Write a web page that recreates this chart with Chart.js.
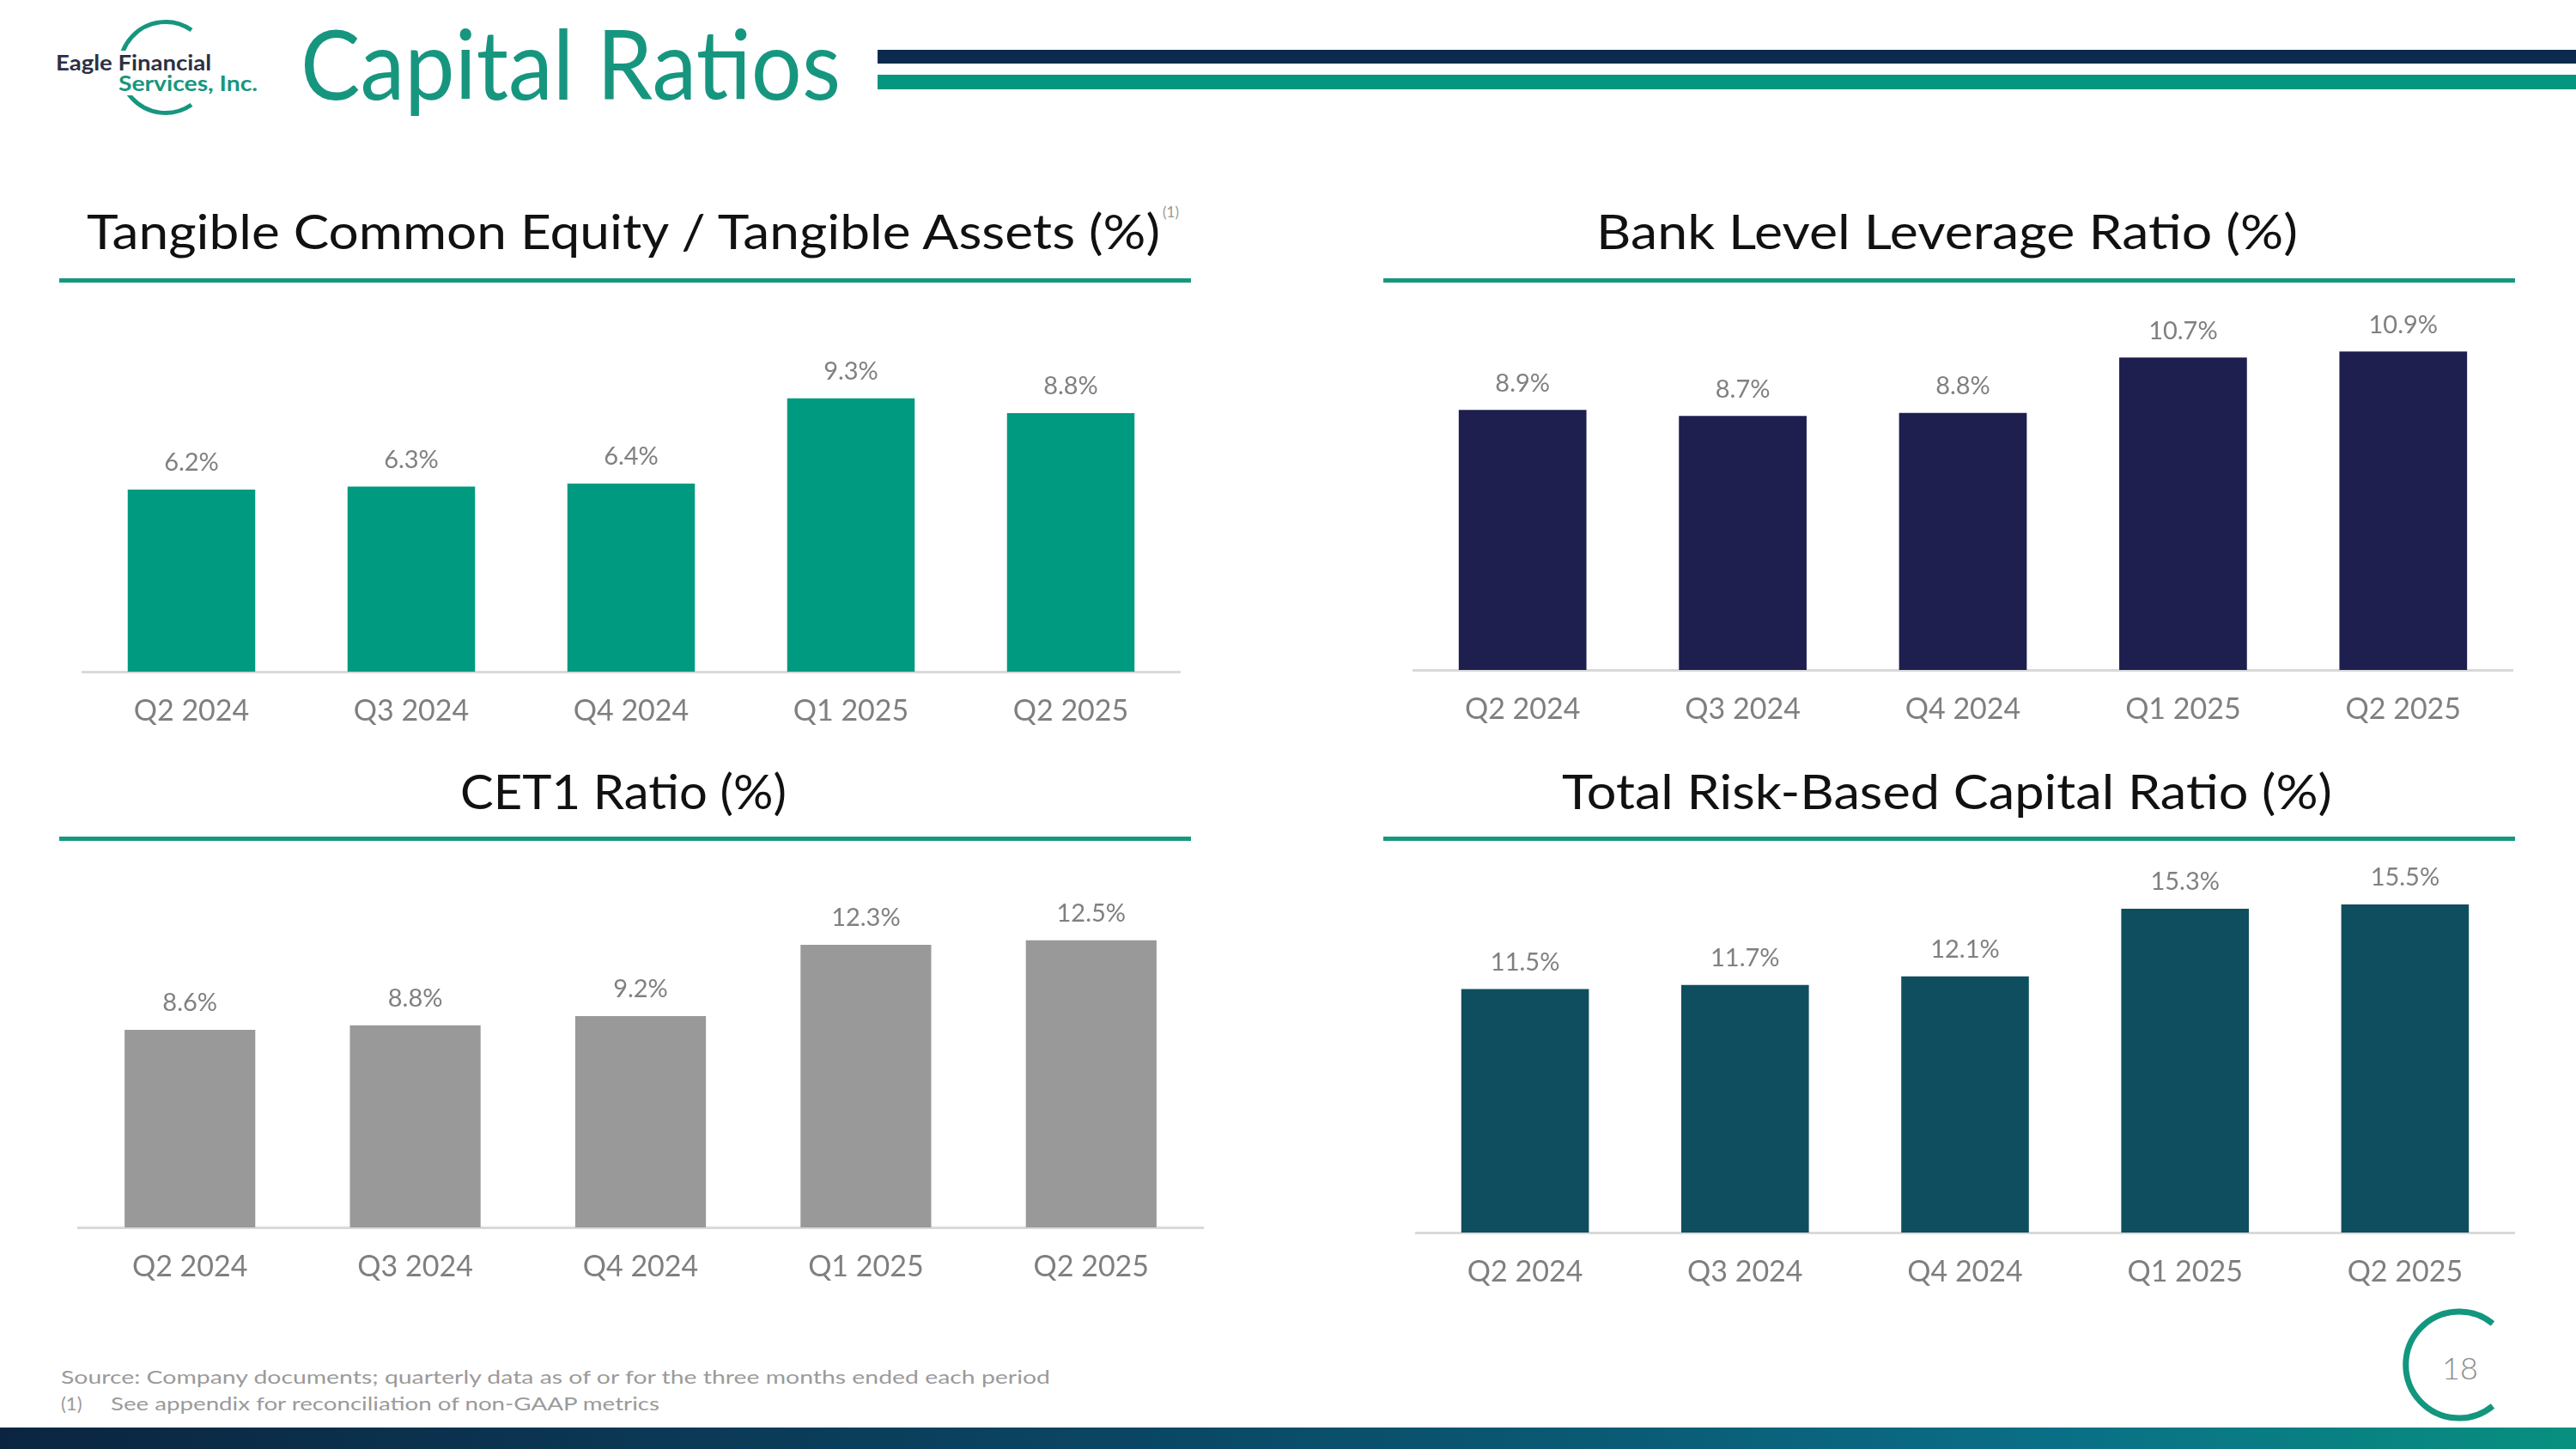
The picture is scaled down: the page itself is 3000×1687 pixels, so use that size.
<!DOCTYPE html>
<html>
<head>
<meta charset="utf-8">
<title>Capital Ratios</title>
<script src="https://cdn.jsdelivr.net/npm/chart.js@4.4.1/dist/chart.umd.min.js"></script>
<style>
  html, body { margin: 0; padding: 0; background: #fff; }
  body { width: 3000px; height: 1687px; position: relative; overflow: hidden; font-family: Lato, "Noto Sans", sans-serif; }
  .abs { position: absolute; }
  .txt { position: absolute; white-space: nowrap; line-height: 1; transform-origin: left top; }
  .rule { position: absolute; height: 5px; background: #18977f; }
  canvas { position: absolute; }
</style>
</head>
<body>

<!-- logo + header -->
<svg class="abs" style="left:0;top:0" width="3000" height="1687">
  <path d="M 223 35 A 53 53 0 1 0 223 122" fill="none" stroke="#17967f" stroke-width="5"/>
  <path d="M 2903 1541 A 62 62 0 1 0 2903 1637" fill="none" stroke="#13967f" stroke-width="7"/>
</svg>
<div class="txt" data-w="181" style="left:65px;top:59px;font-size:24px;font-weight:700;color:#2b3045;background:#fff;padding:2px 0;">Eagle Financial</div>
<div class="txt" data-w="162" style="left:138px;top:83px;font-size:24px;font-weight:700;color:#17967f;background:#fff;padding:2px 0;">Services, Inc.</div>
<div class="txt" data-w="629" style="left:350px;top:17px;font-size:112px;color:#17967f;">Capital Ratios</div>
<div class="abs" style="left:1022px;top:58px;width:1978px;height:16px;background:#0b2a4e;"></div>
<div class="abs" style="left:1022px;top:87px;width:1978px;height:17px;background:#04967e;"></div>

<!-- panel titles -->
<div class="txt" data-w="1250" style="left:101px;top:240px;font-size:57px;color:#111;">Tangible Common Equity / Tangible Assets (%)</div>
<div class="txt" style="left:1354px;top:238px;font-size:17px;color:#999;">(1)</div>
<div class="rule" style="left:69px;top:324px;width:1318px;"></div>
<div class="txt" data-w="817" style="left:1859px;top:240px;font-size:57px;color:#111;">Bank Level Leverage Ratio (%)</div>
<div class="rule" style="left:1611px;top:324px;width:1318px;"></div>

<div class="txt" data-w="380" style="left:536px;top:892px;font-size:57px;color:#111;">CET1 Ratio (%)</div>
<div class="rule" style="left:69px;top:974px;width:1318px;"></div>
<div class="txt" data-w="897" style="left:1819px;top:892px;font-size:57px;color:#111;">Total Risk-Based Capital Ratio (%)</div>
<div class="rule" style="left:1611px;top:974px;width:1318px;"></div>

<canvas id="tce" width="1280" height="532" style="left:95px;top:340px;"></canvas>
<canvas id="leverage" width="1282" height="530" style="left:1645px;top:340px;"></canvas>
<canvas id="cet1" width="1312" height="519" style="left:90px;top:1000px;"></canvas>
<canvas id="trbc" width="1281" height="525" style="left:1648px;top:1000px;"></canvas>

<!-- footer -->
<div class="txt" data-w="1152" style="left:71px;top:1592px;font-size:22px;color:#9a9a9a;">Source: Company documents; quarterly data as of or for the three months ended each period</div>
<div class="txt" style="left:71px;top:1623px;font-size:22px;color:#9a9a9a;">(1)</div>
<div class="txt" data-w="639" style="left:129px;top:1623px;font-size:22px;color:#9a9a9a;">See appendix for reconciliation of non-GAAP metrics</div>
<div class="txt" style="left:2844px;top:1574px;font-size:36px;color:#8c8c8c;font-weight:300;">18</div>
<div class="abs" style="left:0;top:1662px;width:3000px;height:25px;background:linear-gradient(90deg,#0b2540 0%,#0a4764 45%,#0a6f86 80%,#08907f 100%);"></div>

<script>
const quarters = ['Q2 2024', 'Q3 2024', 'Q4 2024', 'Q1 2025', 'Q2 2025']
const tceRatio = [6.2, 6.3, 6.4, 9.3, 8.8]
const leverageRatio = [8.9, 8.7, 8.8, 10.7, 10.9]
const cet1Ratio = [8.6, 8.8, 9.2, 12.3, 12.5]
const totalRbcRatio = [11.5, 11.7, 12.1, 15.3, 15.5]

// labels over the bars
const valueLabels = {
  id: 'valueLabels',
  afterDatasetsDraw(chart) {
    const ctx = chart.ctx
    const values = chart.data.datasets[0].data
    ctx.save()
    ctx.font = '29px Lato'
    ctx.fillStyle = '#808080'
    ctx.textAlign = 'center'
    ctx.textBaseline = 'middle'
    chart.getDatasetMeta(0).data.forEach((bar, i) => {
      ctx.fillText(values[i].toFixed(1) + '%', bar.x, bar.y - 31)
    })
    ctx.restore()
  }
}

function makeChart(id, values, color, yMax) {
  return new Chart(document.getElementById(id), {
    type: 'bar',
    data: {
      labels: quarters,
      datasets: [{ data: values, backgroundColor: color, barPercentage: 0.58, categoryPercentage: 1 }]
    },
    options: {
      responsive: false,
      animation: false,
      layout: { padding: 0 },
      plugins: { legend: { display: false }, tooltip: { enabled: false } },
      scales: {
        x: {
          grid: { display: false, drawTicks: false },
          border: { display: true, color: '#d9d9d9', width: 3 },
          ticks: { color: '#7f7f7f', font: { family: 'Lato', size: 34 }, padding: 26 },
          afterFit: (scale) => { scale.height = 90 }
        },
        y: { display: false, min: 0, max: yMax }
      }
    },
    plugins: [valueLabels]
  })
}

function fitTexts() {
  document.querySelectorAll('[data-w]').forEach(el => {
    const w = el.getBoundingClientRect().width
    if (w > 0) el.style.transform = 'scaleX(' + (el.dataset.w / w) + ')'
  })
}

document.fonts.ready.then(() => {
  fitTexts()
  makeChart('tce', tceRatio, '#009a80', 12.92)
  makeChart('leverage', leverageRatio, '#1e1f4f', 12.94)
  makeChart('cet1', cet1Ratio, '#999999', 16.04)
  makeChart('trbc', totalRbcRatio, '#0f4e5e', 17.65)
})
</script>
</body>
</html>
